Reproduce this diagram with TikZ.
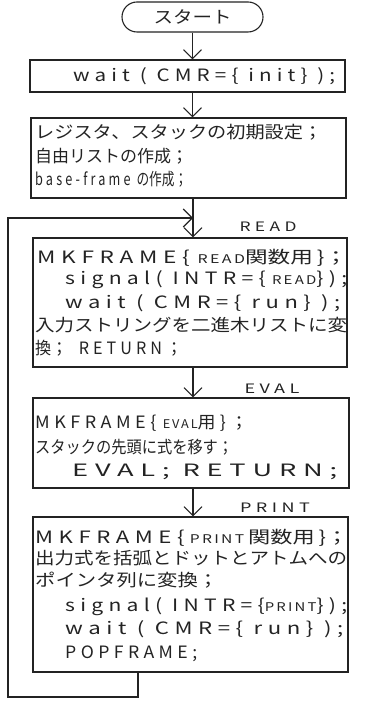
\documentclass[tikz,border=0pt]{standalone}
\usepackage{fontspec}
\setmainfont{Noto Sans CJK JP}
\usepackage{graphicx}
\usetikzlibrary{arrows.meta}
\definecolor{ink}{RGB}{35,35,35}
\tikzset{
 box/.style={draw=ink, line width=1.1pt, inner sep=0pt},
 txt/.style={inner sep=0pt, anchor=base west, text=ink, font=\fontsize{17}{17}\selectfont},
 lbl/.style={inner sep=0pt, anchor=base, text=ink, font=\fontsize{13}{13}\selectfont},
 flow/.style={draw=ink, line width=1.1pt, -{Straight Barb[length=9pt,width=18pt]}},
 plain/.style={draw=ink, line width=1.1pt},
}
\newcommand{\sm}[1]{{\fontsize{12}{12}\selectfont\addfontfeature{LetterSpace=15}#1}}
\newcommand{\lt}[1]{{\addfontfeature{LetterSpace=25}#1}}
\newcommand{\gap}[1]{\hspace*{#1pt}}
\newcommand{\tline}[4]{\node[txt] (#1) at (#2) {\resizebox{#3pt}{\height}{#4}};}
\begin{document}
\begin{tikzpicture}[x=1pt,y=-1pt]
\useasboundingbox (0,0) rectangle (365,708);
% boxes
\node[box, rounded corners=15pt, minimum width=141pt, minimum height=30pt, font=\fontsize{17}{17}\selectfont, text=ink] (start) at (192.5,17) {\resizebox{78pt}{\height}{スタート}};
\node[box, minimum width=315pt, minimum height=32pt] (b1) at (187.5,76) {};
\node[box, minimum width=315pt, minimum height=80pt] (b2) at (188.5,158) {};
\node[box, minimum width=314pt, minimum height=129pt] (b3) at (190,302.5) {};
\node[box, minimum width=316pt, minimum height=90pt] (b4) at (191,443) {};
\node[box, minimum width=315pt, minimum height=155pt] (b5) at (190.5,594.5) {};
% text lines
\tline{t1}{73,82}{262}{\lt{wait ( CMR=\{ init\} );}}
\tline{t2a}{35,139}{287}{レジスタ、スタックの初期設定；}
\tline{t2b}{35,163}{153}{自由リストの作成；}
\tline{t2c}{35,186}{152}{\lt{base-frame}\gap{8}の作成；}
\tline{t3a}{37,263}{310}{\lt{MKFRAME\{}\gap{6}\sm{READ}関数用\gap{3}\}；}
\tline{t3b}{65,284}{282}{\lt{signal( INTR=\{}\gap{5}\sm{READ}\lt{\});}}
\tline{t3c}{65,308}{275}{\lt{wait ( CMR=\{ run\} );}}
\tline{t3d}{35,331}{312}{入力ストリングを二進木リストに変}
\tline{t3e}{35,354}{147}{換；\gap{12}\lt{RETURN；}}
\tline{t4a}{35,428}{213}{\lt{MKFRAME\{}\gap{6}\sm{EVAL}用\gap{4}\}\gap{4}；}
\tline{t4b}{35,453}{198}{スタックの先頭に式を移す；}
\tline{t4c}{72,476}{265}{\lt{EVAL; RETURN;}}
\tline{t5a}{35,543}{313}{\lt{MKFRAME\{}\gap{4}\sm{PRINT}\gap{3}関数用\gap{3}\}；}
\tline{t5b}{35,564}{312}{出力式を括弧とドットとアトムへの}
\tline{t5c}{35,586}{183}{ポインタ列に変換；}
\tline{t5d}{65,611}{282}{\lt{signal( INTR=\{}\sm{PRINT}\lt{\});}}
\tline{t5e}{65,634}{278}{\lt{wait ( CMR=\{ run\} );}}
\tline{t5f}{65,658}{132}{\lt{POPFRAME;}}
% labels
\node[lbl] (lread) at (268,232) {\resizebox{57pt}{\height}{\lt{READ}}};
\node[lbl] (leval) at (272,393) {\resizebox{55pt}{\height}{\lt{EVAL}}};
\node[lbl] (lprint) at (275,512) {\resizebox{70pt}{\height}{\lt{PRINT}}};
% connectors
\coordinate (ax) at (193,0);
\draw[flow] (start.south) -- (start.south |- b1.north);
\draw[flow] (start.south |- b1.south) -- (start.south |- b2.north);
\draw[flow] (ax |- b2.south) -- (ax |- b3.north);
\draw[flow] (ax |- b3.south) -- (ax |- b4.north);
\draw[flow] (ax |- b4.south) -- (ax |- b5.north);
\coordinate (lb) at (138,697);
\coordinate (ll) at (8,218);
\coordinate (lj) at (193,218);
\draw[flow] (lb |- b5.south) -- (lb) -- (ll |- lb) -- (ll) -- (lj);
\end{tikzpicture}
\end{document}
